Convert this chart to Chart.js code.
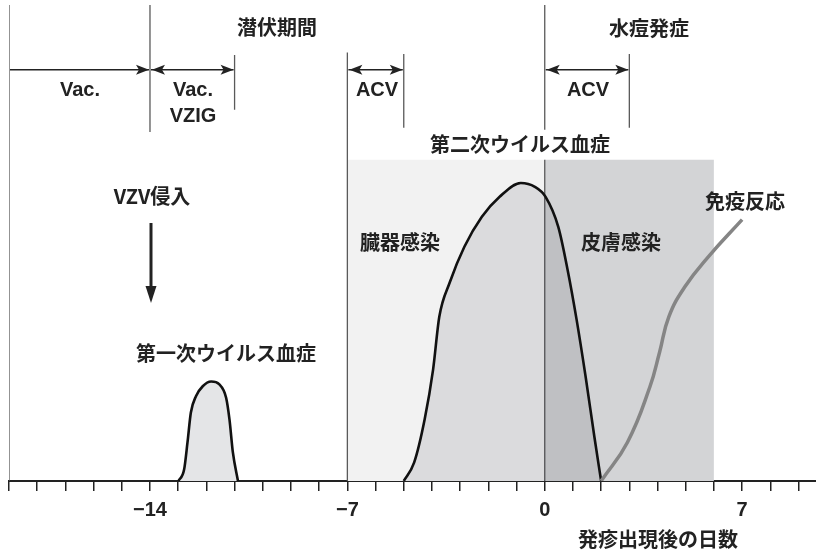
<!DOCTYPE html>
<html><head><meta charset="utf-8">
<script src="https://cdn.jsdelivr.net/npm/chart.js@4.4.0/dist/chart.umd.min.js"></script>
<style>html,body{margin:0;padding:0;background:#fff}canvas{display:block}</style>
</head><body>
<canvas id="c" width="816" height="553"></canvas>
<script>
// ---- data (days relative to rash onset; y = relative level 0..100) ----
const tickDays = [-19,-18,-17,-16,-15,-14,-13,-12,-11,-10,-9,-8,-7,-6,-5,-4,-3,-2,-1,0,1,2,3,4,5,6,7,8,9];
const majorTickDays = [-14, -7, 0, 7];
const majorTickLabels = ['\u221214', '\u22127', '0', '7'];

const primaryX = [-12.99, -12.79, -12.67, -12.55, -12.37, -12.13, -11.83, -11.54, -11.3, -11.18, -11.06, -10.88];
const primaryY = [0, 2.4, 8.1, 14.4, 17.8, 19.9, 20.9, 20.3, 17.5, 12.9, 6.0, 0];

const secondaryX = [-5.0, -4.63, -4.26, -3.96, -3.74, -3.37, -2.85, -2.23, -1.6, -0.85, -0.35, 0.03, 0.48, 0.81, 1.13, 1.45, 1.76, 2.0];
const secondaryY = [0, 3.9, 12.9, 23.4, 34.5, 41.7, 49.2, 55.5, 59.7, 62.6, 61.8, 59.7, 53.4, 44.4, 33.9, 21.9, 9.3, 0];

const immuneX = [2.0, 2.93, 3.73, 4.07, 4.4, 4.97, 5.8, 7.0];
const immuneY = [0, 8.1, 19.8, 27, 34.5, 40.8, 47.1, 54.9];

const organBand = [-7, 0];      // 臓器感染
const skinBand = [0, 6];        // 皮膚感染
const bandTop = 67.5;

// vertical markers: [day, yTop, yBottom]
const markerDays  = [-19, -14, -11, -7, -5, 0, 3];
const markerTops  = [100, 100, 89.5, 90, 89.7, 100, 89.7];
const markerBots  = [0, 73.3, 78.0, 0, 74.2, 73.8, 74.2];

// treatment intervals (arrows)
const intervalStart = [-19, -14, -7, 0];
const intervalEnd   = [-14, -11, -5, 3];
const intervalHeadStart = [false, true, true, true];
const arrowLevel = 86.4;

const zip = (xs, ys) => xs.map((v, i) => ({x: v, y: ys[i]}));

const markerData = [];
markerDays.forEach((d, i) => {
  markerData.push({x: d, y: markerTops[i]}, {x: d, y: markerBots[i]}, {x: d, y: null});
});
// zero line continues through the band below the label gap
markerData.push({x: 0, y: bandTop}, {x: 0, y: 0});

const JP = "'Noto Sans CJK JP', sans-serif";
const LAT = "'Liberation Sans', Arial, sans-serif";

const texts = [
  {t: '潜伏期間', x: 277, y: 27, f: `bold 20px ${JP}`},
  {t: '水痘発症', x: 649, y: 28, f: `bold 20px ${JP}`},
  {t: 'Vac.', x: 80, y: 90, f: `bold 20px ${LAT}`},
  {t: 'Vac.', x: 193, y: 90, f: `bold 20px ${LAT}`},
  {t: 'VZIG', x: 193, y: 116, f: `bold 20px ${LAT}`},
  {t: 'ACV', x: 377, y: 90, f: `bold 20px ${LAT}`},
  {t: 'ACV', x: 588, y: 90, f: `bold 20px ${LAT}`},
  {t: '第二次ウイルス血症', x: 520, y: 144, f: `bold 20px ${JP}`},
  {t: 'VZV侵入', x: 152, y: 196, f: `bold 20px ${JP}`},
  {t: '臓器感染', x: 400, y: 242, f: `bold 20px ${JP}`},
  {t: '皮膚感染', x: 621, y: 242, f: `bold 20px ${JP}`},
  {t: '免疫反応', x: 745, y: 201, f: `bold 20px ${JP}`},
  {t: '第一次ウイルス血症', x: 226, y: 353, f: `bold 20px ${JP}`},
  {t: '発疹出現後の日数', x: 658, y: 539, f: `bold 20px ${JP}`}
];

function head(ctx, xt, yt, dir) {
  ctx.beginPath();
  ctx.moveTo(xt, yt);
  ctx.lineTo(xt - dir * 13, yt - 5);
  ctx.lineTo(xt - dir * 10, yt);
  ctx.lineTo(xt - dir * 13, yt + 5);
  ctx.closePath();
  ctx.fill();
}

const overlay = {
  id: 'overlay',
  afterDatasetsDraw(chart) {
    const {ctx, scales: {x, y}} = chart;
    ctx.save();
    ctx.strokeStyle = '#222';
    ctx.fillStyle = '#222';
    ctx.lineWidth = 1.6;
    const py = y.getPixelForValue(arrowLevel);
    intervalStart.forEach((s, i) => {
      const x1 = x.getPixelForValue(s) + 1, x2 = x.getPixelForValue(intervalEnd[i]) - 1;
      ctx.beginPath(); ctx.moveTo(x1, py); ctx.lineTo(x2, py); ctx.stroke();
      head(ctx, x2, py, 1);
      if (intervalHeadStart[i]) head(ctx, x1 + 1, py, -1);
    });
    // VZV entry arrow
    const ax = 151;
    ctx.lineWidth = 3;
    ctx.beginPath(); ctx.moveTo(ax, 223); ctx.lineTo(ax, 290); ctx.stroke();
    ctx.beginPath(); ctx.moveTo(ax - 5.5, 286); ctx.lineTo(ax + 5.5, 286); ctx.lineTo(ax, 303); ctx.closePath(); ctx.fill();
    // texts
    ctx.textAlign = 'center';
    ctx.textBaseline = 'middle';
    texts.forEach(o => { ctx.font = o.f; ctx.fillStyle = '#222'; ctx.fillText(o.t, o.x, o.y); });
    ctx.restore();
  }
};

new Chart(document.getElementById('c'), {
  type: 'line',
  data: {
    datasets: [
      {data: zip(secondaryX, secondaryY), borderColor: '#111', borderWidth: 2.6, backgroundColor: 'rgba(0,0,16,0.095)',
       fill: 'origin', cubicInterpolationMode: 'monotone', pointRadius: 0, order: 1},
      {data: zip(primaryX, primaryY), borderColor: '#111', borderWidth: 2.6, backgroundColor: '#e4e5e7',
       fill: 'origin', cubicInterpolationMode: 'monotone', pointRadius: 0, order: 1},
      {data: zip(immuneX, immuneY), borderColor: '#858585', borderWidth: 3.5, fill: false,
       tension: 0.45, pointRadius: 0, order: 0},
      {data: markerData, borderColor: '#5a5a5a', borderWidth: 1.3, fill: false, spanGaps: false,
       pointRadius: 0, tension: 0, order: 3},
      {data: [{x: skinBand[0], y: bandTop}, {x: skinBand[1], y: bandTop}], borderWidth: 0, borderColor: 'rgba(0,0,0,0)',
       backgroundColor: '#d3d4d6', fill: 'origin', pointRadius: 0, tension: 0, order: 9},
      {data: [{x: organBand[0], y: bandTop}, {x: organBand[1], y: bandTop}], borderWidth: 0, borderColor: 'rgba(0,0,0,0)',
       backgroundColor: '#f2f2f2', fill: 'origin', pointRadius: 0, tension: 0, order: 9}
    ]
  },
  plugins: [overlay],
  options: {
    responsive: false,
    animation: false,
    events: [],
    layout: {padding: {left: 9, right: 0, top: 5, bottom: 0}},
    plugins: {legend: {display: false}, tooltip: {enabled: false}, title: {display: false}},
    scales: {
      x: {
        type: 'linear', min: -19, max: 9.62,
        afterBuildTicks: s => { s.ticks = tickDays.map(v => ({value: v})); },
        afterFit: s => { s.height = 72; },
        grid: {display: true, drawOnChartArea: false, drawTicks: true, tickLength: 10, color: '#222', lineWidth: 1.5},
        border: {display: true, color: '#222', width: 2},
        ticks: {
          autoSkip: false, maxRotation: 0, padding: 7, color: '#222',
          font: {family: LAT, size: 20, weight: 'bold'},
          callback: v => { const i = majorTickDays.indexOf(v); return i >= 0 ? majorTickLabels[i] : ''; }
        }
      },
      y: {type: 'linear', min: 0, max: 100, display: false}
    }
  }
});
</script>
</body></html>
